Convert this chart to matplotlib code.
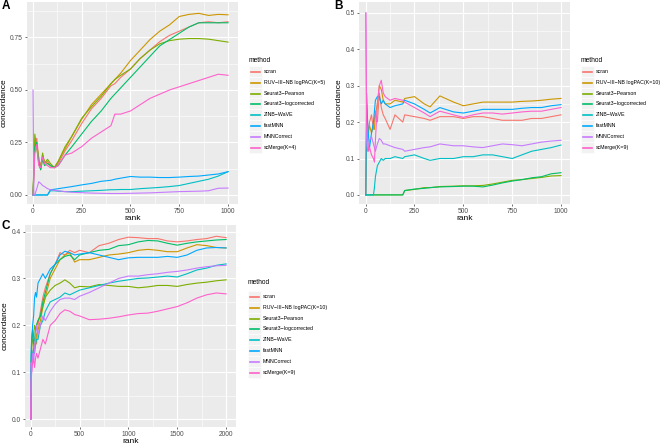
import matplotlib
matplotlib.use("Agg")
import matplotlib.pyplot as plt
from matplotlib.lines import Line2D
from matplotlib.patches import Rectangle

plt.rcParams['font.family'] = ['Liberation Sans', 'DejaVu Sans']

W, H = 664, 445

colors = ['#F8766D', '#CD9600', '#7CAE00', '#00BE67', '#00BFC4', '#00A9FF', '#C77CFF', '#FF61CC']

# ---- panel A ----
labels_a = ['scran', 'RUV−III−NB logPAC(K=5)', 'Seurat3−Pearson', 'Seurat3−logcorrected',
            'ZINB−WaVE', 'fastMNN', 'MNNCorrect', 'scMerge(K=4)']
rank_a = [1, 5, 10, 20, 30, 40, 50, 60, 75, 90, 110, 130, 165, 200, 250, 300, 350, 400, 420,
          450, 500, 550, 600, 650, 700, 750, 800, 850, 900, 950, 1000]
scran_a = [0.0, 0.10, 0.22, 0.27, 0.17, 0.14, 0.19, 0.15, 0.16, 0.14, 0.13, 0.15, 0.21, 0.26, 0.34,
           0.41, 0.46, 0.52, 0.53, 0.56, 0.60, 0.65, 0.69, 0.73, 0.76, 0.78, 0.80, 0.82, 0.825, 0.82, 0.825]
ruv_a = [0.0, 0.12, 0.25, 0.24, 0.18, 0.12, 0.18, 0.16, 0.15, 0.14, 0.13, 0.16, 0.22, 0.28, 0.36,
         0.43, 0.48, 0.53, 0.55, 0.58, 0.64, 0.69, 0.74, 0.78, 0.81, 0.85, 0.86, 0.865, 0.855, 0.86, 0.858]
pearson_a = [0.0, 0.14, 0.29, 0.22, 0.16, 0.13, 0.20, 0.15, 0.17, 0.15, 0.13, 0.16, 0.23, 0.28, 0.365,
             0.42, 0.47, 0.53, 0.55, 0.57, 0.60, 0.65, 0.69, 0.72, 0.735, 0.742, 0.745, 0.745, 0.742, 0.735, 0.728]
logcorr_a = [0.0, 0.11, 0.23, 0.25, 0.15, 0.12, 0.17, 0.14, 0.15, 0.14, 0.13, 0.14, 0.19, 0.23, 0.29,
             0.35, 0.40, 0.46, 0.48, 0.51, 0.56, 0.61, 0.66, 0.71, 0.74, 0.77, 0.80, 0.82, 0.82, 0.82, 0.82]
zinb_a = [0, 0, 0, 0, 0, 0, 0, 0, 0, 0.02, 0.02, 0.018, 0.016, 0.016, 0.018, 0.02, 0.022, 0.025, 0.025,
          0.026, 0.026, 0.03, 0.033, 0.036, 0.04, 0.045, 0.055, 0.065, 0.075, 0.09, 0.111]
fastmnn_a = [0, 0, 0, 0, 0, 0, 0, 0, 0, 0.025, 0.027, 0.03, 0.035, 0.04, 0.048, 0.055, 0.065, 0.07, 0.075,
             0.08, 0.088, 0.085, 0.085, 0.083, 0.083, 0.085, 0.088, 0.09, 0.095, 0.1, 0.111]
mnn_a = [0.5, 0.0, 0.0, 0.03, 0.063, 0.055, 0.045, 0.04, 0.03, 0.025, 0.022, 0.02, 0.016, 0.013, 0.011,
         0.009, 0.008, 0.007, 0.007, 0.007, 0.008, 0.009, 0.01, 0.012, 0.014, 0.016, 0.017, 0.018, 0.02, 0.032, 0.033]
scmerge_a = [0.0, 0.08, 0.20, 0.24, 0.14, 0.13, 0.18, 0.15, 0.14, 0.13, 0.13, 0.14, 0.19, 0.20, 0.23,
             0.27, 0.30, 0.33, 0.385, 0.385, 0.40, 0.43, 0.46, 0.48, 0.50, 0.515, 0.53, 0.545, 0.56, 0.575, 0.57]

# ---- panel B ----
labels_b = ['scran', 'RUV−III−NB logPAC(K=10)', 'Seurat3−Pearson', 'Seurat3−logcorrected',
            'ZINB−WaVE', 'fastMNN', 'MNNCorrect', 'scMerge(K=9)']
rank_b = [1, 5, 10, 15, 20, 30, 40, 45, 50, 60, 70, 80, 90, 100, 125, 150, 190, 200, 250, 300, 330,
          380, 450, 500, 550, 600, 650, 700, 750, 800, 850, 900, 950, 1000]
scran_b = [0.0, 0.25, 0.2, 0.17, 0.2, 0.22, 0.18, 0.21, 0.23, 0.2, 0.28, 0.24, 0.22, 0.21, 0.18, 0.22,
           0.2, 0.22, 0.215, 0.21, 0.205, 0.215, 0.215, 0.21, 0.215, 0.215, 0.21, 0.205, 0.205, 0.205,
           0.21, 0.21, 0.215, 0.22]
ruv_b = [0.0, 0.2, 0.15, 0.18, 0.19, 0.17, 0.19, 0.18, 0.22, 0.25, 0.3, 0.29, 0.26, 0.25, 0.25, 0.26,
         0.255, 0.265, 0.27, 0.25, 0.242, 0.272, 0.255, 0.245, 0.25, 0.255, 0.255, 0.255, 0.255, 0.257,
         0.258, 0.26, 0.263, 0.265]
pearson_b = [0, 0, 0, 0, 0, 0, 0, 0, 0, 0, 0, 0, 0, 0, 0, 0, 0, 0.012, 0.015, 0.02, 0.02, 0.023, 0.024,
             0.025, 0.025, 0.026, 0.03, 0.035, 0.04, 0.042, 0.045, 0.048, 0.052, 0.053]
logcorr_b = [0, 0, 0, 0, 0, 0, 0, 0, 0, 0, 0, 0, 0, 0, 0, 0, 0, 0.012, 0.016, 0.018, 0.02, 0.022, 0.023,
             0.024, 0.024, 0.022, 0.027, 0.033, 0.038, 0.042, 0.047, 0.05, 0.058, 0.061]
zinb_b = [0, 0, 0, 0, 0, 0, 0, 0.02, 0.05, 0.08, 0.09, 0.1, 0.095, 0.1, 0.1, 0.105, 0.1, 0.105, 0.11,
          0.1, 0.095, 0.1, 0.1, 0.105, 0.105, 0.11, 0.11, 0.105, 0.1, 0.11, 0.12, 0.125, 0.13, 0.137]
fastmnn_b = [0.0, 0.28, 0.2, 0.16, 0.13, 0.17, 0.2, 0.23, 0.26, 0.27, 0.27, 0.25, 0.26, 0.25, 0.24, 0.245,
             0.25, 0.26, 0.25, 0.235, 0.225, 0.24, 0.228, 0.225, 0.23, 0.235, 0.235, 0.235, 0.235, 0.238,
             0.24, 0.24, 0.245, 0.248]
mnn_b = [0.5, 0.15, 0.12, 0.13, 0.15, 0.16, 0.14, 0.13, 0.12, 0.14, 0.155, 0.15, 0.14, 0.14, 0.135, 0.13,
         0.125, 0.12, 0.125, 0.13, 0.132, 0.14, 0.135, 0.135, 0.132, 0.13, 0.135, 0.14, 0.138, 0.135,
         0.14, 0.145, 0.148, 0.15]
scmerge_b = [0.5, 0.2, 0.15, 0.12, 0.13, 0.11, 0.1, 0.09, 0.15, 0.25, 0.3, 0.315, 0.28, 0.27, 0.26, 0.265,
             0.26, 0.255, 0.24, 0.225, 0.215, 0.23, 0.22, 0.213, 0.22, 0.225, 0.225, 0.222, 0.225, 0.228,
             0.23, 0.23, 0.235, 0.24]

# ---- panel C ----
labels_c = labels_b
rank_c = [1, 5, 10, 20, 30, 40, 50, 60, 75, 100, 125, 150, 200, 250, 300, 350, 400, 450, 500, 600, 700,
          800, 900, 1000, 1100, 1200, 1300, 1400, 1500, 1600, 1700, 1800, 1900, 2000]
scran_c = [0.0, 0.1, 0.12, 0.13, 0.16, 0.15, 0.17, 0.16, 0.2, 0.23, 0.26, 0.28, 0.31, 0.33, 0.355, 0.35,
           0.36, 0.355, 0.36, 0.355, 0.37, 0.375, 0.383, 0.388, 0.387, 0.385, 0.385, 0.38, 0.378, 0.38,
           0.383, 0.385, 0.39, 0.387]
ruv_c = [0.0, 0.11, 0.13, 0.12, 0.15, 0.16, 0.16, 0.18, 0.19, 0.21, 0.24, 0.26, 0.3, 0.32, 0.34, 0.35,
         0.355, 0.335, 0.34, 0.34, 0.345, 0.35, 0.352, 0.355, 0.36, 0.362, 0.36, 0.357, 0.357, 0.365,
         0.372, 0.37, 0.366, 0.365]
pearson_c = [0.0, 0.12, 0.15, 0.17, 0.18, 0.2, 0.19, 0.2, 0.21, 0.22, 0.24, 0.26, 0.275, 0.285, 0.29,
             0.297, 0.29, 0.28, 0.283, 0.282, 0.287, 0.285, 0.283, 0.283, 0.28, 0.282, 0.285, 0.285,
             0.283, 0.287, 0.29, 0.292, 0.295, 0.297]
logcorr_c = [0.0, 0.13, 0.17, 0.19, 0.16, 0.17, 0.19, 0.2, 0.21, 0.22, 0.25, 0.27, 0.31, 0.33, 0.34,
             0.347, 0.35, 0.34, 0.35, 0.355, 0.36, 0.362, 0.37, 0.372, 0.378, 0.381, 0.38, 0.375, 0.371,
             0.375, 0.378, 0.38, 0.382, 0.383]
zinb_c = [0.0, 0.1, 0.12, 0.14, 0.15, 0.14, 0.16, 0.17, 0.17, 0.2, 0.21, 0.23, 0.25, 0.255, 0.26, 0.269,
          0.265, 0.27, 0.275, 0.28, 0.285, 0.29, 0.294, 0.297, 0.3, 0.301, 0.303, 0.305, 0.303, 0.31,
          0.318, 0.322, 0.328, 0.331]
fastmnn_c = [0.0, 0.14, 0.17, 0.2, 0.22, 0.26, 0.27, 0.26, 0.29, 0.3, 0.31, 0.3, 0.32, 0.33, 0.35, 0.358,
             0.355, 0.35, 0.352, 0.355, 0.35, 0.345, 0.34, 0.344, 0.345, 0.345, 0.345, 0.347, 0.345,
             0.35, 0.36, 0.365, 0.366, 0.365]
mnn_c = [0.0, 0.12, 0.1, 0.14, 0.12, 0.15, 0.18, 0.2, 0.18, 0.2, 0.22, 0.21, 0.23, 0.245, 0.255, 0.258,
         0.258, 0.255, 0.262, 0.27, 0.28, 0.29, 0.3, 0.305, 0.305, 0.308, 0.31, 0.313, 0.315, 0.318,
         0.322, 0.325, 0.327, 0.328]
scmerge_c = [0.0, 0.08, 0.1, 0.12, 0.13, 0.11, 0.13, 0.14, 0.13, 0.15, 0.17, 0.16, 0.2, 0.21, 0.225,
             0.233, 0.23, 0.223, 0.22, 0.212, 0.213, 0.215, 0.218, 0.222, 0.225, 0.226, 0.23, 0.235,
             0.24, 0.248, 0.258, 0.265, 0.269, 0.267]


def fx(x):
    return x / W


def fy(y):
    return 1 - y / H


def panel(rect, ranks, series, xticks, xlim, yticks, ylabels, ylim):
    left, top, right, bottom = rect
    ax = fig.add_axes([fx(left), fy(bottom), (right - left) / W, (bottom - top) / H])
    ax.set_facecolor('#EBEBEB')
    for s, c in zip(series, colors):
        ax.plot(ranks, s, color=c, lw=0.8, zorder=3)
    ax.set_xlim(*xlim)
    ax.set_ylim(*ylim)
    ax.set_xticks(xticks)
    ax.set_xticklabels([str(t) for t in xticks])
    ax.set_yticks(yticks)
    ax.set_yticklabels(ylabels)
    xs = [(a + b) / 2 for a, b in zip(xticks[:-1], xticks[1:])]
    ys = [(a + b) / 2 for a, b in zip(yticks[:-1], yticks[1:])] + [yticks[-1] + (yticks[1] - yticks[0]) / 2]
    ax.set_xticks(xs, minor=True)
    ax.set_yticks([v for v in ys if v < ylim[1]], minor=True)
    ax.grid(True, which='major', color='white', lw=0.8)
    ax.grid(True, which='minor', color='white', lw=0.4)
    ax.set_axisbelow(True)
    for sp in ax.spines.values():
        sp.set_visible(False)
    ax.tick_params(which='major', length=1.6, width=0.5, color='#333333', labelsize=4.8,
                   labelcolor='#4D4D4D', pad=1.4)
    ax.tick_params(which='minor', length=0)
    ax.set_xlabel('rank', fontsize=6, labelpad=0)
    ax.set_ylabel('concordance', fontsize=6, labelpad=2)
    return ax


def legend(x0, y_title, y_first, labels):
    fig.text(fx(x0), fy(y_title), 'method', fontsize=4.8, va='center', ha='left')
    for i, (lab, c) in enumerate(zip(labels, colors)):
        y = round(y_first + i * 10.8) + 0.5
        fig.add_artist(Rectangle((fx(x0), fy(y + 5.4)), 13 / W, 10.8 / H, facecolor='#F2F2F2',
                                 edgecolor='white', lw=0.4, zorder=1))
        fig.add_artist(Line2D([fx(x0 + 2), fx(x0 + 11)], [fy(y), fy(y)], color=c, lw=1.2, zorder=5))
        fig.text(fx(x0 + 15), fy(y), lab, fontsize=3.8, va='center', ha='left')


fig = plt.figure(figsize=(W / 100, H / 100), dpi=100)

series_a = [scran_a, ruv_a, pearson_a, logcorr_a, zinb_a, fastmnn_a, mnn_a, scmerge_a]
series_b = [scran_b, ruv_b, pearson_b, logcorr_b, zinb_b, fastmnn_b, mnn_b, scmerge_b]
series_c = [scran_c, ruv_c, pearson_c, logcorr_c, zinb_c, fastmnn_c, mnn_c, scmerge_c]

panel((27, 2, 238, 204), rank_a, series_a, [0, 250, 500, 750, 1000], (-30, 1051),
      [0, 0.25, 0.5, 0.75], ['0.00', '0.25', '0.50', '0.75'], (-0.043, 0.919))
panel((359, 2, 570, 204), rank_b, series_b, [0, 250, 500, 750, 1000], (-34, 1046),
      [0, 0.1, 0.2, 0.3, 0.4, 0.5], ['0.0', '0.1', '0.2', '0.3', '0.4', '0.5'], (-0.025, 0.53))
panel((25, 225, 236, 427), rank_c, series_c, [0, 500, 1000, 1500, 2000], (-58, 2101),
      [0, 0.1, 0.2, 0.3, 0.4], ['0.0', '0.1', '0.2', '0.3', '0.4'], (-0.017, 0.414))

legend(249, 60, 71, labels_a)
legend(581, 60, 71, labels_b)
legend(248, 283, 296, labels_c)

fig.text(fx(2), fy(6), 'A', fontsize=8.5, fontweight='bold', va='center', ha='left')
fig.text(fx(334), fy(6), 'B', fontsize=8.5, fontweight='bold', va='center', ha='left')
fig.text(fx(2), fy(226), 'C', fontsize=8.5, fontweight='bold', va='center', ha='left')

fig.savefig('out.png', dpi=100)
